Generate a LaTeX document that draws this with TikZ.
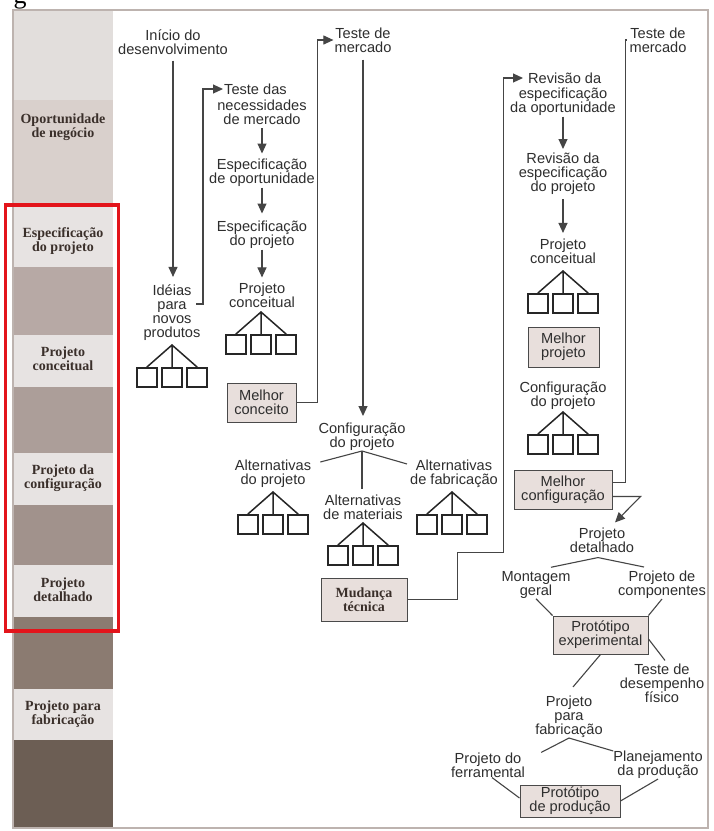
\documentclass[tikz,border=0pt]{standalone}
\usepackage{fontspec}
\setmainfont{Liberation Serif}
\newfontfamily\sansf{Liberation Sans}
\newfontfamily\serf{Liberation Serif}
\usetikzlibrary{arrows.meta,calc}
\definecolor{txtc}{HTML}{2E2E2E}
\definecolor{labc}{HTML}{3A2F2A}
\definecolor{linec}{HTML}{454545}
\definecolor{treec}{HTML}{262626}
\definecolor{boxf}{HTML}{E8DFDC}
\definecolor{boxd}{HTML}{4A4A4A}
\definecolor{framec}{HTML}{BDB3AF}
\definecolor{bandL}{HTML}{E7E3E2}
\definecolor{bandT}{HTML}{E2DEDC}
\definecolor{bandT2}{HTML}{D9D0CC}
\definecolor{bandA}{HTML}{B7A9A5}
\definecolor{bandB}{HTML}{AC9E99}
\definecolor{bandC}{HTML}{A1928C}
\definecolor{bandD}{HTML}{8B7B71}
\definecolor{bandE}{HTML}{6C5E54}
\definecolor{redc}{HTML}{E3141B}
\newcommand\bxtree[3]{%
  \coordinate (#1) at (#2,#3);
  \node[sqbox] (#1L) at (#2-25,#3+32.5) {};
  \node[sqbox] (#1M) at (#2,#3+32.5) {};
  \node[sqbox] (#1R) at (#2+25,#3+32.5) {};
  \draw[tl] (#1L.north) -- (#1) -- (#1R.north) (#1) -- (#1M.north);
}
\tikzset{
  t/.style={font=\sansf\fontsize{14.6}{14}\selectfont, text=txtc, align=center, inner sep=0pt},
  lab/.style={font=\serf\bfseries\fontsize{14}{14}\selectfont, text=labc, align=center, inner sep=0pt},
  bx/.style={t, draw=boxd, fill=boxf, line width=1pt},
  ln/.style={draw=linec, line width=1.1pt},
  arr/.style={ln, -{Triangle[length=10pt,width=9pt]}},
  sqbox/.style={draw=treec, line width=1.6pt, minimum size=19.5pt, inner sep=0pt},
  tl/.style={draw=treec, line width=1.5pt, line cap=round},
}
\begin{document}
\begin{tikzpicture}[x=1pt,y=-1pt]
\useasboundingbox (0,0) rectangle (714,831);
\fill[white] (0,0) rectangle (714,831);
% cropped caption letter
\node[font=\serf\fontsize{26}{26}\selectfont, text=black, anchor=base, inner sep=0pt] (capg) at (20,3) {g};
% left column bands
\fill[bandT] (13,10) rectangle (113,100);
\fill[bandT2] (13,100) rectangle (113,205);
\fill[bandL] (13,205) rectangle (113,267);
\fill[bandA] (13,267) rectangle (113,335);
\fill[bandL] (13,335) rectangle (113,387);
\fill[bandB] (13,387) rectangle (113,453);
\fill[bandL] (13,453) rectangle (113,505);
\fill[bandC] (13,505) rectangle (113,565);
\fill[bandL] (13,565) rectangle (113,617);
\fill[bandD] (13,617) rectangle (113,689);
\fill[bandL] (13,689) rectangle (113,740);
\fill[bandE] (13,740) rectangle (113,828);
% frame
\draw[framec, line width=2.8pt] (13,10) rectangle (708,828);
% column labels
\node[lab] (L1) at (63,127) {Oportunidade\\de negócio};
\node[lab] (L2) at (63,241.5) {Especificação\\do projeto};
\node[lab] (L3) at (63,359) {Projeto\\conceitual};
\node[lab] (L4) at (63,478) {Projeto da\\configuração};
\node[lab] (L5) at (63,590) {Projeto\\detalhado};
\node[lab] (L6) at (63,714.5) {Projeto para\\fabricação};
% red highlight
\draw[redc, line width=3.5pt] (5.5,205) rectangle (118.5,631);

% ---------- column 1
\node[t] (inicio) at (173,42) {Início do\\desenvolvimento};
\node[t] (ideias) at (172,313) {Idéias\\para\\novos\\produtos};
\bxtree{tA}{172}{345}
\draw[arr, shorten <=6pt, shorten >=8pt] (inicio.south) -- (inicio.south |- ideias.north);

% ---------- column 2
\node[t, anchor=west] (testeA) at (224,89) {Teste das};
\node[t] (testeB) at (262,112.5) {necessidades\\de mercado};
\coordinate (hk) at (196,304);
\draw[arr, shorten >=1pt] (hk) -- ++(7,0) |- (testeA.west);
\node[t] (espop) at (262,172.5) {Especificação\\de oportunidade};
\node[t] (espproj) at (262,234.5) {Especificação\\do projeto};
\node[t] (pc1) at (262,295) {Projeto\\conceitual};
\draw[arr, shorten <=3pt, shorten >=5pt] (testeB.south) -- (testeB.south |- espop.north);
\draw[arr, shorten <=1pt, shorten >=7pt] (espop.south) -- (espop.south |- espproj.north);
\draw[arr, shorten <=1pt, shorten >=5pt] (espproj.south) -- (espproj.south |- pc1.north);
\bxtree{tB}{261}{312}
\node[bx, minimum width=69pt, minimum height=39pt] (mc) at (261.5,402.5) {Melhor\\conceito};

% ---------- column 3
\node[t] (tm1) at (363,40) {Teste de\\mercado};
\draw[arr, shorten >=1pt] (mc.east) -- ++(21,0) |- (tm1.west);
\node[t] (cfg1) at (362,437) {Configuração\\do projeto};
\draw[arr, shorten <=7pt, shorten >=7pt] (tm1.south) -- (tm1.south |- cfg1.north);
\node[t] (altp) at (273,474) {Alternativas\\do projeto};
\node[t] (altm) at (363,507) {Alternativas\\de materiais};
\node[t] (altf) at (454,474) {Alternativas\\de fabricação};
\draw[ln] ([xshift=9pt,yshift=-2pt]altp.north east) -- (cfg1.south) -- ([xshift=-3pt,yshift=-4pt]altf.north west);
\draw[ln, shorten >=5pt] (cfg1.south) -- (cfg1.south |- altm.north);
\bxtree{tC}{273}{492}
\bxtree{tD}{363}{523}
\bxtree{tE}{452}{492}
\node[bx, font=\serf\bfseries\fontsize{14}{13.5}\selectfont, text=labc, minimum width=86pt, minimum height=43pt] (mud) at (364,599.5) {Mudança\\técnica};

% ---------- column 4
\node[t, anchor=west] (rev1a) at (528,78) {Revisão da};
\node[t] (rev1b) at (563,101.5) {especificação\\da oportunidade};
\draw[arr, shorten >=5pt] (mud.east) -- ++(50,0) -- ++(0,-47) -- ++(46,0) |- (rev1a.west);
\node[t] (rev2) at (563,174) {Revisão da\\especificação\\do projeto};
\node[t] (pc2) at (563,251.5) {Projeto\\conceitual};
\draw[arr, shorten <=1pt, shorten >=4pt] (rev1b.south) -- (rev1b.south |- rev2.north);
\draw[arr, shorten <=4pt, shorten >=6pt] (rev2.south) -- (rev2.south |- pc2.north);
\bxtree{tF}{563}{271}
\node[bx, minimum width=71pt, minimum height=40pt] (mp) at (563.5,347) {Melhor\\projeto};
\node[t] (cfg2) at (563,396) {Configuração\\do projeto};
\bxtree{tG}{563}{412}
\node[bx, minimum width=98pt, minimum height=39pt] (mcfg) at (563,489.5) {Melhor\\configuração};
\node[t] (tm2) at (658,40) {Teste de\\mercado};
\draw[ln, shorten >=2pt] ([yshift=7pt]mcfg.east) -- ++(13,0) |- (tm2.west);
\node[t] (pd) at (602,540) {Projeto\\detalhado};
\draw[arr] ([yshift=-7pt]mcfg.east) -- ++(28,0) -- ([xshift=13pt,yshift=5pt]pd.north);
\node[t] (mg) at (536,585) {Montagem\\geral};
\node[t] (pcomp) at (662,585) {Projeto de\\componentes};
\draw[ln] ([xshift=15pt,yshift=4pt]mg.north) -- ([xshift=-4pt,yshift=-5pt]pd.south) -- ([xshift=-18pt,yshift=4pt]pcomp.north);
\node[bx, minimum width=95pt, minimum height=38pt] (pe) at (600.5,635) {Protótipo\\experimental};
\draw[ln] (mg.south) -- (pe.north west);
\draw[ln] (pcomp.south) -- (pe.north east);
\node[t] (td) at (662,683) {Teste de\\desempenho\\físico};
\draw[ln] ([yshift=-4pt]pe.east) -- ([xshift=3pt,yshift=3pt]td.north);
\node[t] (ppf) at (569,717) {Projeto\\para\\fabricação};
\draw[ln] (pe.south) -- ([xshift=4pt,yshift=9pt]ppf.north);
\node[t] (pfer) at (488,765) {Projeto do\\ferramental};
\node[t] (plan) at (658,765) {Planejamento\\da produção};
\draw[ln] ([xshift=16pt]pfer.north east) -- (ppf.south) -- (plan.north west);
\node[bx, minimum width=100pt, minimum height=32pt] (pp) at (570,801) {Protótipo\\de produção};
\draw[ln] ([xshift=4pt]pfer.south) -- ([yshift=3pt]pp.west);
\draw[ln] (plan.south) -- (pp.east);
\end{tikzpicture}
\end{document}
